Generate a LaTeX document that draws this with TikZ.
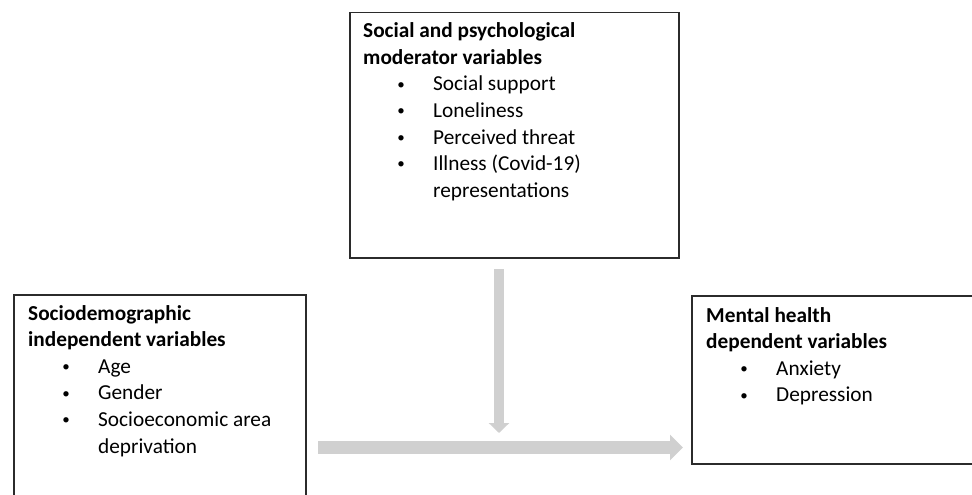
\documentclass[tikz,border=0pt]{standalone}
\usepackage{fontspec}
\setmainfont{Carlito}
\usetikzlibrary{arrows.meta}
\definecolor{boxline}{HTML}{2B2B2B}
\definecolor{arrowgray}{HTML}{D0D0D0}
\newcommand{\smallbullet}{\raisebox{1.8pt}{\fontsize{15pt}{15pt}\selectfont\textbullet}}
\newcommand{\itm}[1]{\hspace*{38pt}\makebox[0pt]{\smallbullet}\hspace*{32pt}#1\par}
\newcommand{\cont}[1]{\hspace*{70pt}#1\par}
\tikzset{
  boxnode/.style={draw=boxline, line width=1.5pt, fill=none, inner sep=0pt, anchor=north west},
  textblock/.style={inner sep=0pt, anchor=base west},
  bigarrow/.style={draw=arrowgray}
}
\newcommand{\blk}[2]{\begin{minipage}[t]{#1}\fontsize{21.3pt}{26.6pt}\selectfont\raggedright\parindent=0pt #2\end{minipage}}
\begin{document}
\begin{tikzpicture}[x=1pt,y=-1pt]
\useasboundingbox (0,0) rectangle (972,495);
\clip (0,0) rectangle (972,495);
% boxes
\node[boxnode, minimum width=329pt, minimum height=245pt] (mod) at (349,12) {};
\node[boxnode, minimum width=292pt, minimum height=240pt] (soc) at (13,294) {};
\node[boxnode, minimum width=330pt, minimum height=168pt] (men) at (691,295) {};
% texts
\node[textblock] (modtext) at (363,37.7) {\blk{310pt}{%
  \textbf{Social and psychological}\par
  \textbf{moderator variables}\par
  \itm{Social support}
  \itm{Loneliness}
  \itm{Perceived threat}
  \itm{Illness (Covid-19)}
  \cont{representations}}};
\node[textblock] (soctext) at (28,320) {\blk{280pt}{%
  \textbf{Sociodemographic}\par
  \textbf{independent variables}\par
  \itm{Age}
  \itm{Gender}
  \itm{Socioeconomic area}
  \cont{deprivation}}};
\node[textblock] (mentext) at (706,322) {\blk{260pt}{%
  \textbf{Mental health}\par
  \textbf{dependent variables}\par
  \itm{Anxiety}
  \itm{Depression}}};
% arrows
\coordinate (vstart) at (499,269);
\coordinate (vend) at (499,433);
\coordinate (hstart) at (318,447.5);
\coordinate (hend) at (683,447.5);
\draw[bigarrow, line width=10pt, -{Triangle[width=20pt,length=10pt,fill=arrowgray]}] (vstart) -- (vend);
\draw[bigarrow, line width=13pt, -{Triangle[width=25pt,length=13pt,fill=arrowgray]}] (hstart) -- (hend);
\end{tikzpicture}
\end{document}
